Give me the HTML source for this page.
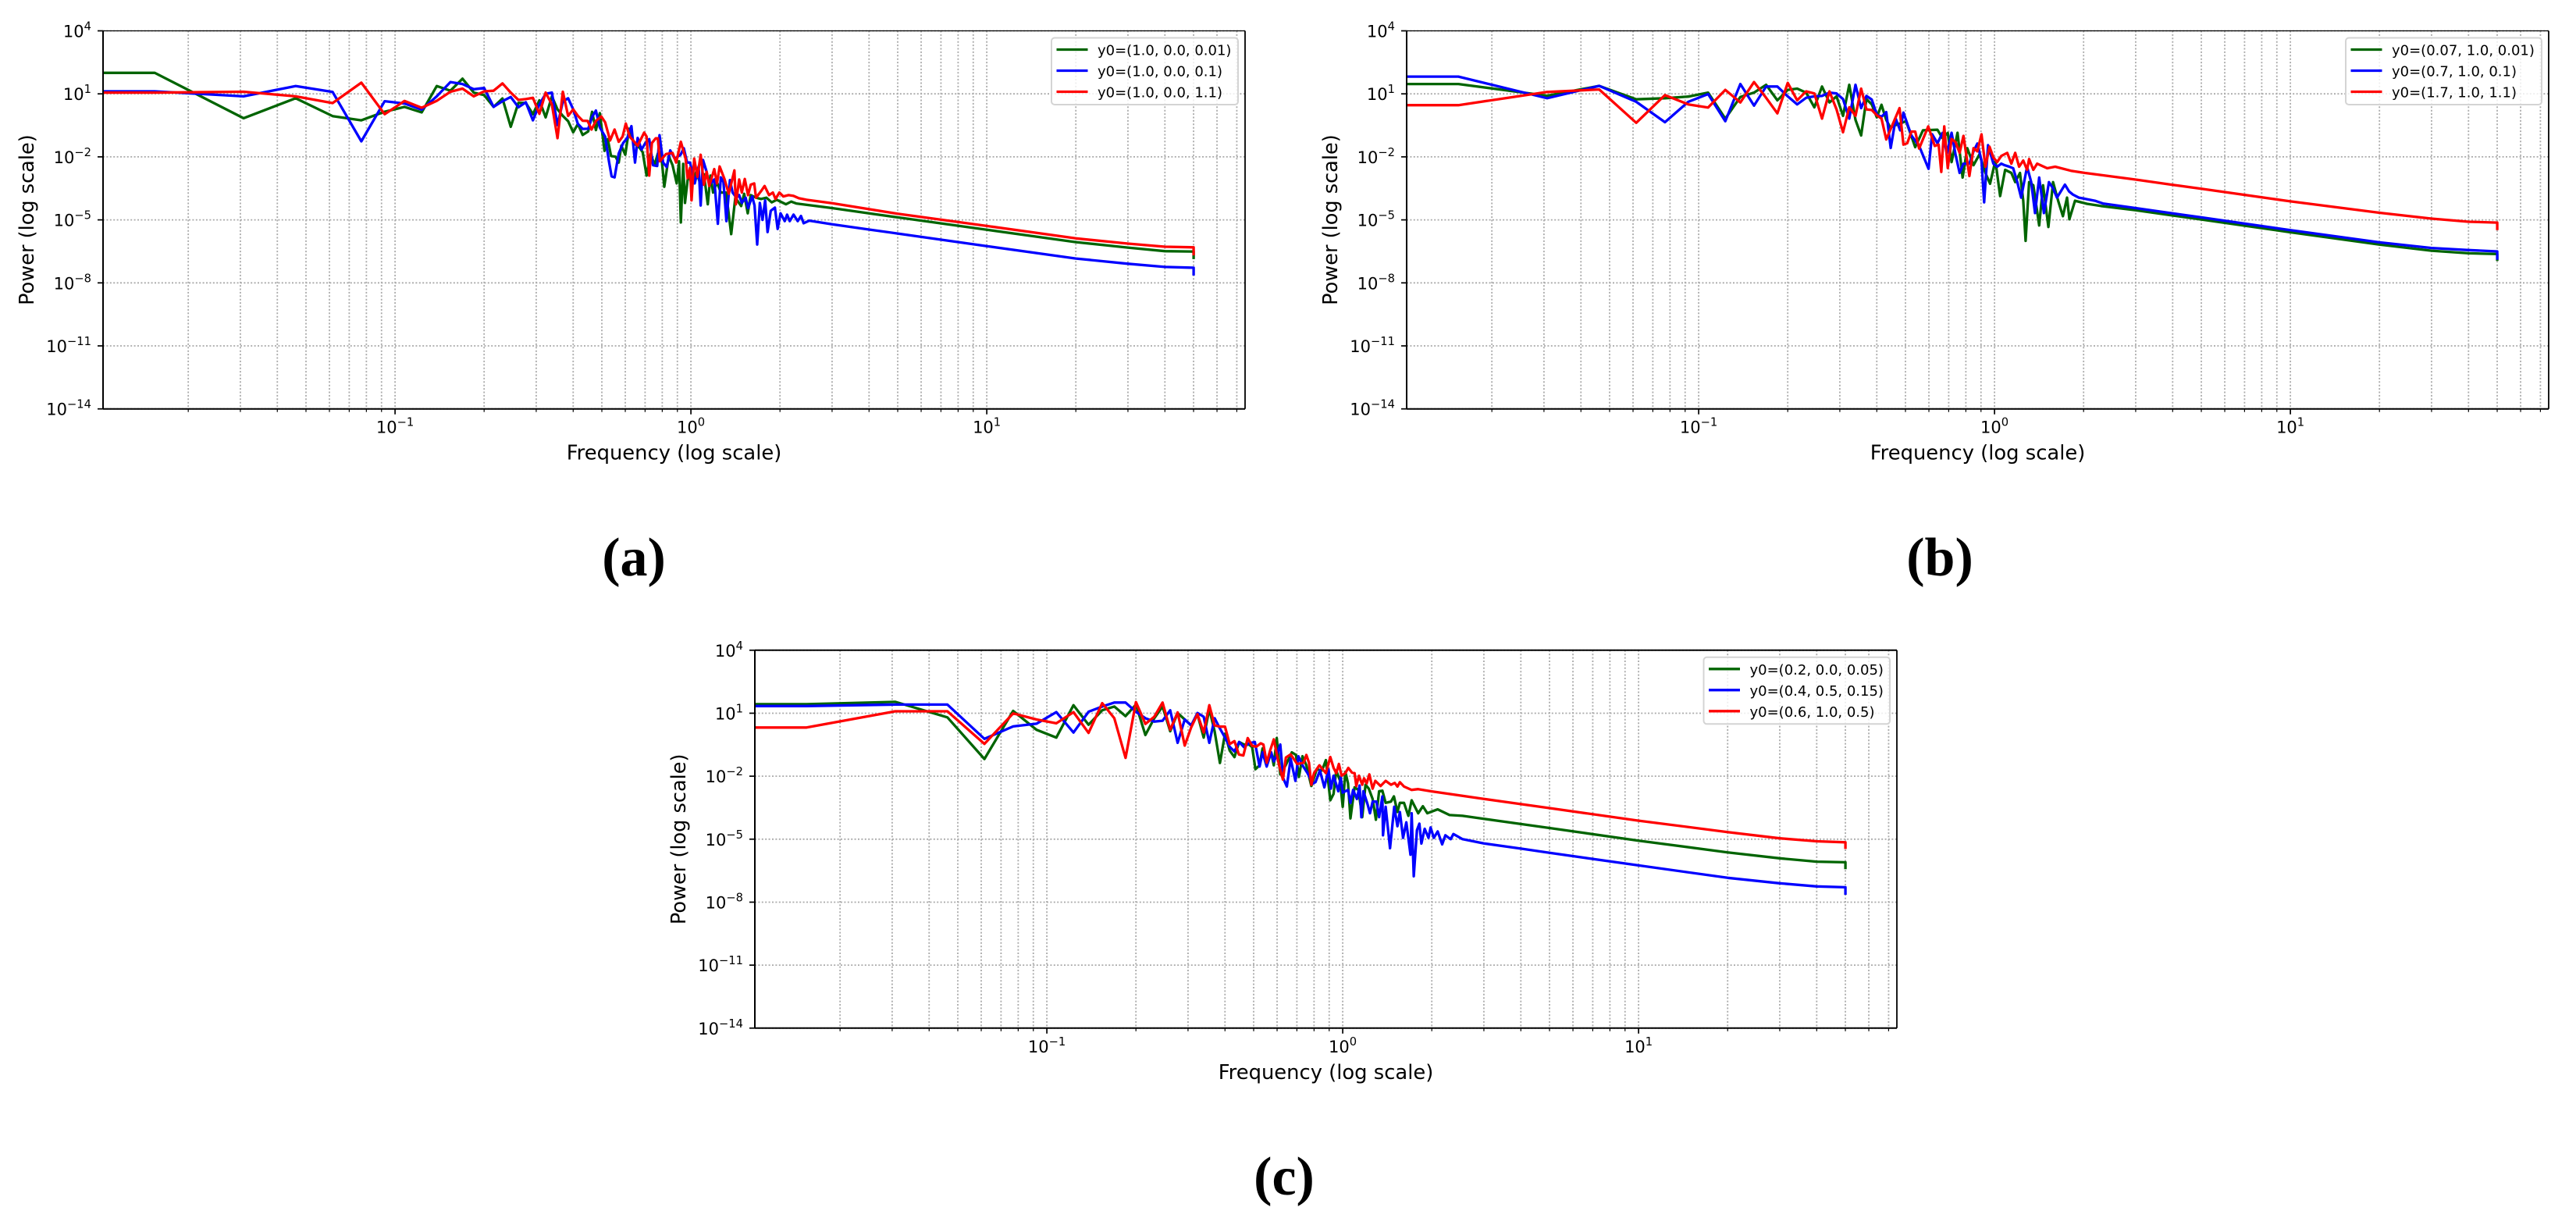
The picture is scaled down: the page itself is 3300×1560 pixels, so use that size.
<!DOCTYPE html>
<html lang="en">
<head>
<meta charset="utf-8">
<title>Power spectra on log-log axes</title>
<style>
html,body{margin:0;padding:0;background:#fff;}
svg{display:block;}
text{font-family:"DejaVu Sans","Liberation Sans",sans-serif;fill:#000;}
.caption{font-family:"Liberation Serif",serif;font-weight:bold;font-size:70px;}
</style>
</head>
<body>
<svg id="figure" xmlns="http://www.w3.org/2000/svg" width="3300" height="1560" viewBox="0 0 3300 1560"></svg>
<script>
// ---------- axis values (log10 units) ----------
const xLimLog = [-1.987, 1.873];
const yLimLog = [-14, 4];
const xMajorExps = [-1, 0, 1];
const xMinorDecades = [-2, -1, 0, 1];
const xMinorMultiples = [2, 3, 4, 5, 6, 7, 8, 9];
const yTickExps = [4, 1, -2, -5, -8, -11, -14];

// ---------- shared frequencies, log10(Hz) ----------
const logFreqLow = [-1.812,-1.512,-1.336,-1.211,-1.114,-1.035,-0.968,-0.910,-0.859,-0.813,-0.772,-0.734,-0.699,-0.667,-0.637,-0.609,-0.583,-0.558,-0.534,-0.512,-0.491,-0.470,-0.451,-0.433,-0.415,-0.398,-0.382,-0.366];
const logFreqTail = [0.477,0.602,0.699,1,1.301,1.477,1.602,1.699,1.699];

// ---------- panel (a), log10(power) ----------
const aGreenLow = [2.0,-0.16,0.79,-0.06,-0.26,0.15,0.38,0.12,1.37,1.15,1.72,1.06,0.94,0.38,0.78,-0.57,0.57,0.57,0.03,0.69,-0.12,0.88,0.26,-0.05,-0.3,-0.83,-0.43,-0.96];
const aGreenMidF = [-0.347,-0.334,-0.321,-0.308,-0.292,-0.281,-0.27,-0.255,-0.244,-0.235,-0.222,-0.209,-0.193,-0.172,-0.163,-0.15,-0.136,-0.123,-0.112,-0.101,-0.09,-0.075,-0.062,-0.048,-0.04,-0.034,-0.026,-0.02,-0.009,0.004,0.018,0.033,0.044,0.057,0.066,0.075,0.088,0.101,0.119,0.136,0.15,0.17,0.18,0.192,0.202,0.22,0.237,0.255,0.273,0.29,0.321,0.339,0.356];
const aGreenMidP = [-0.786,0.144,-0.724,0.082,-1.715,-1.157,-1.963,-1.988,-2.273,-1.467,-1.901,-0.662,-1.343,-1.591,-1.777,-2.892,-1.839,-2.397,-1.839,-1.777,-3.425,-1.963,-2.397,-3.264,-2.211,-5.123,-2.335,-4.193,-2.83,-3.326,-2.706,-3.326,-2.83,-4.255,-2.892,-3.698,-3.202,-3.698,-3.698,-5.68,-3.945,-4.342,-3.76,-4.689,-3.822,-3.945,-4.007,-3.945,-4.169,-4.045,-4.255,-4.131,-4.218];
const aGreenTail = [-4.44,-4.689,-4.88,-5.47,-6.06,-6.32,-6.49,-6.51,-6.87];

const aBlueLow = [1.12,0.88,1.37,1.09,-1.26,0.65,0.54,0.25,0.88,1.56,1.47,1.22,1.28,0.38,0.65,0.85,0.36,0.6,-0.26,0.5,1,1.06,-0.49,0.63,0.79,0.26,-0.43,-0.67];
const aBlueMidF = [-0.347,-0.334,-0.321,-0.308,-0.29,-0.277,-0.268,-0.258,-0.244,-0.229,-0.215,-0.201,-0.189,-0.18,-0.167,-0.154,-0.141,-0.128,-0.114,-0.106,-0.094,-0.082,-0.07,-0.055,-0.035,-0.024,-0.013,-0.003,0.013,0.026,0.033,0.041,0.053,0.062,0.079,0.091,0.101,0.11,0.12,0.132,0.141,0.154,0.163,0.172,0.185,0.193,0.207,0.215,0.224,0.233,0.242,0.251,0.259,0.27,0.284,0.293,0.303,0.317,0.325,0.334,0.347,0.361,0.372,0.381,0.4];
const aBlueMidP = [-0.662,-0.104,0.206,-0.6,-1.033,-2.211,-2.929,-2.979,-1.839,-1.343,-1.095,-0.538,-2.273,-1.095,-1.653,-1.343,-1.157,-2.397,-2.434,-0.971,-2.273,-2.483,-1.69,-2.087,-1.901,-1.591,-2.273,-2.273,-3.264,-2.458,-4.317,-2.149,-2.706,-3.326,-3.078,-5.185,-2.979,-3.202,-5.061,-3.103,-3.698,-3.945,-3.822,-4.193,-3.945,-4.441,-3.884,-4.317,-6.176,-4.193,-4.999,-4.069,-5.581,-4.565,-4.416,-5.432,-4.689,-5.061,-4.751,-5.061,-4.751,-5.061,-4.813,-5.16,-5.036];
const aBlueTail = [-5.21,-5.46,-5.65,-6.25,-6.84,-7.09,-7.24,-7.28,-7.65];

const aRedLow = [1.06,1.1,0.88,0.56,1.53,0.03,0.66,0.34,0.67,1.1,1.25,0.88,1.12,1.15,1.5,1.06,0.71,0.75,0.81,0.05,1.06,0.5,-1.11,1.1,-0.05,0.26,-0.05,-0.28];
const aRedMidF = [-0.349,-0.336,-0.321,-0.303,-0.29,-0.273,-0.258,-0.244,-0.231,-0.22,-0.207,-0.18,-0.158,-0.15,-0.141,-0.132,-0.119,-0.112,-0.105,-0.084,-0.062,-0.05,-0.034,-0.018,-0.011,-0.003,0.002,0.011,0.022,0.033,0.044,0.053,0.062,0.079,0.088,0.097,0.114,0.128,0.147,0.152,0.163,0.172,0.182,0.193,0.202,0.214,0.22,0.237,0.249,0.264,0.277,0.286,0.299,0.312,0.33,0.347,0.365,0.391];
const aRedMidP = [-0.29,-0.699,-0.29,-0.079,-0.352,-1.219,-0.699,-1.281,-1.033,-0.414,-1.033,-1.467,-0.848,-1.033,-2.892,-1.343,-1.12,-1.12,-2.211,-1.864,-1.814,-2.273,-1.281,-2.087,-3.016,-2.52,-4.069,-2.087,-2.954,-1.901,-3.326,-2.706,-3.388,-2.582,-3.264,-2.458,-3.078,-3.76,-2.644,-4.255,-3.078,-3.698,-3.053,-3.822,-3.326,-3.264,-3.945,-3.636,-3.388,-3.822,-3.698,-4.007,-3.698,-3.884,-3.822,-3.859,-3.97,-4.045];
const aRedTail = [-4.21,-4.49,-4.71,-5.29,-5.88,-6.13,-6.28,-6.31,-6.69];

// ---------- panel (b), log10(power) ----------
const bGreenLow = [1.47,0.91,1.38,0.74,0.79,0.87,1.06,-0.18,0.85,1.06,1.43,0.69,1.19,1.25,1.06,0.36,1.35,0.59,0.88,-0.05,1.43,-0.24,-0.98,0.75,0.5,-0.12,0.48,-0.24];
const bGreenMidF = [-0.352,-0.334,-0.299,-0.268,-0.242,-0.193,-0.176,-0.158,-0.145,-0.125,-0.108,-0.092,-0.071,-0.051,-0.031,-0.015,0.003,0.019,0.036,0.057,0.07,0.086,0.097,0.105,0.117,0.131,0.151,0.164,0.182,0.198,0.215,0.231,0.245,0.253,0.272,0.312,0.359];
const bGreenMidP = [-0.611,-0.487,-0.301,-1.54,-0.735,-0.71,-1.107,-0.859,-2.25,-0.853,-2.985,-1.588,-2.397,-1.882,-2.765,-3.279,-2.176,-3.868,-2.618,-2.765,-3.206,-2.765,-4.088,-6,-3.206,-3.353,-5.265,-3.353,-5.338,-3.206,-4.088,-4.824,-3.941,-4.97,-4.088,-4.235,-4.34];
const bGreenTail = [-4.54,-4.79,-4.98,-5.59,-6.18,-6.47,-6.59,-6.63,-6.96];

const bBlueLow = [1.82,0.79,1.38,0.62,-0.35,0.62,0.99,-0.3,1.47,0.44,1.35,1.35,0.88,0.5,0.81,0.88,0.9,1.06,1.02,0.75,-0.18,1.43,0.32,0.9,0.73,0.01,-0.09,0.13];
const bBlueMidF = [-0.351,-0.334,-0.319,-0.308,-0.281,-0.255,-0.223,-0.211,-0.193,-0.176,-0.161,-0.145,-0.132,-0.118,-0.105,-0.085,-0.071,-0.058,-0.044,-0.035,-0.022,-0.004,0.009,0.023,0.034,0.05,0.063,0.077,0.09,0.11,0.124,0.137,0.151,0.167,0.184,0.198,0.211,0.238,0.252,0.265,0.285,0.312,0.339,0.366];
const bBlueMidP = [-1.577,-0.177,-0.735,0.108,-0.983,-1.478,-2.569,-0.921,-1.354,-0.859,-1.85,-0.853,-1.882,-2.765,-2.324,-2.324,-1.735,-1.368,-2.176,-4.162,-1.441,-2.324,-2.47,-2.324,-2.397,-2.47,-2.544,-3.206,-3.941,-2.47,-3.206,-4.676,-2.985,-4.676,-3.206,-3.5,-3.941,-3.324,-3.647,-3.794,-3.941,-4.015,-4.088,-4.22];
const bBlueTail = [-4.44,-4.69,-4.88,-5.49,-6.07,-6.34,-6.44,-6.5,-6.9];

const bRedLow = [0.46,1.09,1.21,-0.38,0.94,0.5,0.35,1.19,0.59,1.56,0.81,0.07,1.52,0.69,1.12,1.02,-0.18,1.12,0.26,-0.83,0.36,-0.05,1.25,0.26,0.23,-0.02,-0.18,-1.17];
const bRedMidF = [-0.321,-0.308,-0.295,-0.281,-0.268,-0.255,-0.224,-0.202,-0.189,-0.18,-0.17,-0.158,-0.145,-0.132,-0.118,-0.105,-0.085,-0.071,-0.058,-0.044,-0.031,-0.017,-0.004,0.009,0.023,0.043,0.057,0.07,0.083,0.097,0.11,0.117,0.131,0.144,0.178,0.205,0.258,0.306];
const bRedMidP = [0.318,-1.416,-1.354,-0.797,-0.797,-1.602,-0.549,-1.478,-1.416,-2.717,-0.549,-2.532,-1.147,-1.294,-1.809,-1,-2.912,-1.588,-1.735,-0.926,-2.47,-1.515,-2.03,-2.25,-1.956,-1.809,-2.324,-1.809,-2.47,-2.176,-2.618,-2.103,-2.618,-2.324,-2.544,-2.47,-2.662,-2.765];
const bRedTail = [-3.08,-3.33,-3.52,-4.12,-4.66,-4.94,-5.09,-5.13,-5.49];

// ---------- panel (c), log10(power) ----------
const cGreenLow = [1.43,1.54,0.8,-1.18,1.11,0.21,-0.16,1.38,0.45,1.14,1.32,0.86,1.41,-0.04,0.76,1.32,0.14,1.01,0.7,0.42,0.95,-0.16,1.2,0.14,-1.37,0.02,-0.78,-1.09];
const cGreenMidF = [-0.35,-0.334,-0.317,-0.306,-0.295,-0.281,-0.271,-0.257,-0.242,-0.233,-0.223,-0.211,-0.193,-0.172,-0.158,-0.148,-0.136,-0.123,-0.106,-0.088,-0.07,-0.057,-0.042,-0.031,-0.022,-0.009,0,0.009,0.018,0.026,0.04,0.053,0.066,0.077,0.088,0.101,0.112,0.123,0.134,0.145,0.163,0.173,0.185,0.193,0.207,0.222,0.233,0.255,0.271,0.286,0.321,0.361,0.405];
const cGreenMidP = [-0.37,-0.494,-0.494,-0.617,-1.667,-1.481,-0.679,-1.42,-0.864,-1.481,-0.185,-1.914,-1.481,-0.864,-0.988,-2.037,-1.049,-1.481,-2.469,-1.667,-1.728,-1.235,-3.148,-2.84,-1.728,-2.222,-3.457,-1.79,-2.346,-4.012,-2.531,-2.654,-3.951,-2.407,-2.593,-3.086,-4.074,-2.716,-2.691,-3.272,-3.21,-2.963,-3.704,-3.272,-3.272,-3.889,-3.148,-3.765,-3.432,-3.765,-3.58,-3.852,-3.889];
const cGreenTail = [-4.03,-4.28,-4.47,-5.07,-5.63,-5.91,-6.07,-6.1,-6.43];

const cBlueLow = [1.34,1.41,1.41,-0.22,0.37,0.5,1.05,0.08,1.07,1.32,1.51,1.51,1.07,0.76,0.6,0.64,1.14,-0.41,0.7,0.42,1.01,0.83,-0.41,0.76,0.27,-0.16,-0.6,-0.82];
const cBlueMidF = [-0.35,-0.334,-0.317,-0.297,-0.281,-0.271,-0.257,-0.242,-0.233,-0.224,-0.211,-0.201,-0.189,-0.176,-0.16,-0.15,-0.136,-0.119,-0.101,-0.092,-0.077,-0.062,-0.048,-0.04,-0.031,-0.015,-0.007,0,0.018,0.026,0.035,0.048,0.057,0.063,0.07,0.084,0.092,0.101,0.114,0.123,0.134,0.136,0.145,0.16,0.174,0.185,0.193,0.204,0.215,0.229,0.233,0.24,0.251,0.259,0.266,0.277,0.29,0.297,0.308,0.321,0.336,0.347,0.365,0.374,0.405];
const cBlueMidP = [-0.37,-0.617,-0.432,-0.37,-1.543,-0.864,-1.543,-0.864,-1.296,-1.049,-0.494,-2.099,-2.494,-1.173,-2.222,-1.049,-1.481,-1.852,-2.346,-2.284,-1.728,-2.531,-1.667,-2.593,-1.975,-2.716,-2.037,-2.778,-2.654,-3.272,-2.654,-3.086,-2.444,-3.951,-2.716,-3.333,-3.765,-3.21,-3.21,-3.951,-2.963,-4.815,-3.457,-5.432,-3.457,-4.383,-3.704,-4.938,-4.198,-5.741,-3.765,-6.765,-4.568,-4.259,-5.21,-4.506,-4.938,-4.444,-4.938,-4.63,-5.247,-4.815,-5.0,-4.753,-5.0];
const cBlueTail = [-5.2,-5.45,-5.65,-6.25,-6.84,-7.1,-7.25,-7.29,-7.65];

const cRedLow = [0.32,1.09,1.09,-0.46,0.99,0.7,0.52,1.05,0.06,1.48,0.76,-1.13,1.53,0.49,0.83,1.51,0.21,1.04,-0.54,0.33,0.95,0.08,1.38,0.42,0.36,0.36,-0.47,-0.33];
const cRedMidF = [-0.351,-0.336,-0.321,-0.306,-0.292,-0.277,-0.268,-0.257,-0.246,-0.233,-0.215,-0.202,-0.192,-0.176,-0.154,-0.132,-0.123,-0.114,-0.106,-0.097,-0.079,-0.057,-0.042,-0.031,-0.022,-0.013,-0.004,0.009,0.019,0.031,0.04,0.046,0.055,0.066,0.072,0.081,0.09,0.101,0.11,0.128,0.145,0.163,0.176,0.185,0.193,0.207,0.233,0.255,0.299];
const cRedMidP = [-0.97,-1.012,-0.185,-0.556,-0.593,-0.432,-0.494,-1.358,-0.802,-0.247,-1.481,-2.16,-1.111,-0.963,-1.42,-1.358,-0.988,-1.358,-2.407,-1.852,-1.481,-1.852,-1.086,-1.605,-1.852,-1.42,-1.975,-1.852,-1.605,-1.827,-1.852,-2.469,-1.975,-2.407,-2.099,-2.346,-1.914,-2.593,-2.222,-2.469,-2.222,-2.407,-2.321,-2.494,-2.284,-2.494,-2.654,-2.617,-2.72];
const cRedTail = [-3.08,-3.33,-3.52,-4.12,-4.66,-4.96,-5.1,-5.15,-5.47];

// ---------- legend labels ----------
const aLegendLabels = ["y0=(1.0, 0.0, 0.01)","y0=(1.0, 0.0, 0.1)","y0=(1.0, 0.0, 1.1)"];
const bLegendLabels = ["y0=(0.07, 1.0, 0.01)","y0=(0.7, 1.0, 0.1)","y0=(1.7, 1.0, 1.1)"];
const cLegendLabels = ["y0=(0.2, 0.0, 0.05)","y0=(0.4, 0.5, 0.15)","y0=(0.6, 1.0, 0.5)"];

const seriesColors = ["#006400","#0000ff","#ff0000"];
const seriesNames = ["green","blue","red"];

const NS = "http://www.w3.org/2000/svg";
const root = document.getElementById("figure");

function make(tag, attrs, parent) {
  const el = document.createElementNS(NS, tag);
  for (const k in attrs) el.setAttribute(k, attrs[k]);
  parent.appendChild(el);
  return el;
}

function powerLabel(parent, exp, x, y, anchor) {
  const t = make("text", {x: x, y: y, "text-anchor": anchor, "font-size": 21}, parent);
  const base = make("tspan", {}, t);
  base.textContent = "10";
  const sup = make("tspan", {dy: -9, "font-size": 14.7}, t);
  sup.textContent = (exp < 0 ? "\u2212" : "") + Math.abs(exp);
  return t;
}

function drawPanel(p) {
  const g = make("g", {}, root);
  
  

  const xScale = v => p.left + (v - xLimLog[0]) / (xLimLog[1] - xLimLog[0]) * (p.right - p.left);
  const yScale = v => p.top + (yLimLog[1] - v) / (yLimLog[1] - yLimLog[0]) * (p.bottom - p.top);

  const clipId = "clip-" + p.id;
  const defs = make("defs", {}, g);
  const clip = make("clipPath", {id: clipId}, defs);
  make("rect", {x: p.left, y: p.top, width: p.right - p.left, height: p.bottom - p.top}, clip);

  // grid
  const gridGroup = make("g", {stroke: "#aaaaaa", "stroke-dasharray": "2 2.4", fill: "none"}, g);
  
  
  yTickExps.forEach(e => {
    const y = yScale(e);
    const gl = make("line", {x1: p.left, x2: p.right, y1: y, y2: y, "stroke-width": 1.8}, gridGroup);
    
    
  });
  const xTickGroup = make("g", {stroke: "#000", fill: "none"}, g);
  
  
  const xGridAt = (lv, major) => {
    if (lv < xLimLog[0] || lv > xLimLog[1]) return;
    const x = xScale(lv);
    const gl = make("line", {x1: x, x2: x, y1: p.top, y2: p.bottom, "stroke-width": 1.8}, gridGroup);
    
    
    make("line", {x1: x, x2: x, y1: p.bottom, y2: p.bottom + (major ? 7 : 4), "stroke-width": major ? 1.7 : 1.2}, xTickGroup);
  };
  xMajorExps.forEach(e => xGridAt(e, true));
  xMinorDecades.forEach(d => xMinorMultiples.forEach(m => xGridAt(d + Math.log10(m), false)));

  // series
  const seriesGroup = make("g", {"clip-path": "url(#" + clipId + ")", fill: "none", "stroke-width": 3.3, "stroke-linejoin": "round"}, g);
  
  
  p.series.forEach((s, i) => {
    const fx = [xLimLog[0] - 0.1].concat(logFreqLow, s.midF, logFreqTail);
    const fy = [s.low[0]].concat(s.low, s.midP, s.tail);
    let d = "";
    fx.forEach((v, j) => {
      d += (j ? "L" : "M") + xScale(v).toFixed(1) + " " + yScale(fy[j]).toFixed(1);
    });
    const line = make("path", {d: d, stroke: seriesColors[i]}, seriesGroup);
    
    
  });

  // spines
  const spines = make("g", {stroke: "#000", fill: "none"}, g);
  
  
  make("line", {x1: p.left, x2: p.right, y1: p.top, y2: p.top, "stroke-width": p.topWidth}, spines);
  make("line", {x1: p.left, x2: p.right, y1: p.bottom, y2: p.bottom, "stroke-width": 2}, spines);
  make("line", {x1: p.left, x2: p.left, y1: p.top, y2: p.bottom, "stroke-width": 2}, spines);
  make("line", {x1: p.right, x2: p.right, y1: p.top, y2: p.bottom, "stroke-width": 1.8}, spines);

  // y ticks + labels
  const yTicks = make("g", {}, g);
  
  
  yTickExps.forEach(e => {
    const y = yScale(e);
    make("line", {x1: p.left - 7, x2: p.left, y1: y, y2: y, stroke: "#000", "stroke-width": 1.7}, yTicks);
    const lab = powerLabel(yTicks, e, p.left - 15, y + 8, "end");
    
    
  });

  // x tick labels
  const xLabels = make("g", {}, g);
  
  
  xMajorExps.forEach(e => {
    const lab = powerLabel(xLabels, e, xScale(e), p.bottom + 31, "middle");
    
    
  });

  // axis titles
  const xTitle = make("text", {x: (p.left + p.right) / 2, y: p.bottom + 65, "text-anchor": "middle", "font-size": 25.8}, g);
  xTitle.textContent = "Frequency (log scale)";
  
  
  const yMid = (p.top + p.bottom) / 2;
  const yTitleX = p.left - 89;
  const yTitle = make("text", {x: yTitleX, y: yMid, "text-anchor": "middle", "font-size": 25.6, transform: "rotate(-90 " + yTitleX + " " + yMid + ")"}, g);
  yTitle.textContent = "Power (log scale)";
  
  

  // legend
  const lg = make("g", {}, g);
  
  
  make("rect", {x: p.legX, y: p.top + 9, width: p.legW, height: 85.5, rx: 4, ry: 4, fill: "rgba(255,255,255,0.8)", stroke: "#d4d4d4", "stroke-width": 2}, lg);
  p.labels.forEach((txt, i) => {
    const y = p.top + 24 + i * 27;
    const entry = make("g", {}, lg);
    
    
    make("line", {x1: p.legX + 6.5, x2: p.legX + 46.5, y1: y, y2: y, stroke: seriesColors[i], "stroke-width": 3.3}, entry);
    const t = make("text", {x: p.legX + 59, y: y + 7, "font-size": 18}, entry);
    t.textContent = txt;
  });

  // caption
  const cap = make("text", {class: "caption", x: p.capX, y: p.capY, "text-anchor": "middle"}, g);
  cap.textContent = "(" + p.id + ")";
  
  
}

drawPanel({id: "a", left: 132, right: 1595, top: 39.5, bottom: 523.7, topWidth: 1.3, legX: 1347, legW: 239, capX: 812, capY: 737, labels: aLegendLabels, series: [
  {low: aGreenLow, midF: aGreenMidF, midP: aGreenMidP, tail: aGreenTail},
  {low: aBlueLow, midF: aBlueMidF, midP: aBlueMidP, tail: aBlueTail},
  {low: aRedLow, midF: aRedMidF, midP: aRedMidP, tail: aRedTail}]});
drawPanel({id: "b", left: 1802, right: 3265, top: 39.5, bottom: 523.7, topWidth: 1.3, legX: 3005, legW: 251, capX: 2485, capY: 737, labels: bLegendLabels, series: [
  {low: bGreenLow, midF: bGreenMidF, midP: bGreenMidP, tail: bGreenTail},
  {low: bBlueLow, midF: bBlueMidF, midP: bBlueMidP, tail: bBlueTail},
  {low: bRedLow, midF: bRedMidF, midP: bRedMidP, tail: bRedTail}]});
drawPanel({id: "c", left: 967, right: 2430, top: 832.8, bottom: 1316.8, topWidth: 2, legX: 2182.5, legW: 238.5, capX: 1645, capY: 1530, labels: cLegendLabels, series: [
  {low: cGreenLow, midF: cGreenMidF, midP: cGreenMidP, tail: cGreenTail},
  {low: cBlueLow, midF: cBlueMidF, midP: cBlueMidP, tail: cBlueTail},
  {low: cRedLow, midF: cRedMidF, midP: cRedMidP, tail: cRedTail}]});
</script>
</body>
</html>
